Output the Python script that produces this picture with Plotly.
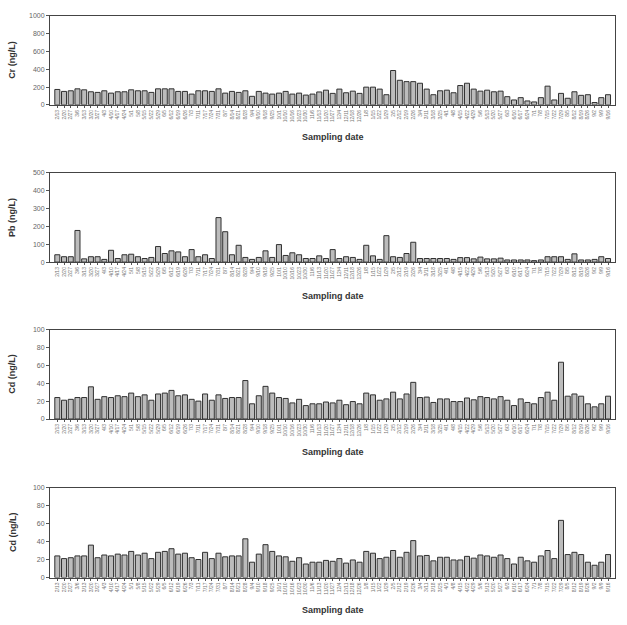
import plotly.graph_objects as go

dates = ["2/13","2/20","2/27","3/6","3/13","3/20","3/27","4/3","4/10","4/17","4/24",
         "5/1","5/8","5/15","5/22","5/29","6/5","6/12","6/19","6/26",
         "7/3","7/11","7/17","7/24","7/31","8/7","8/14","8/21","8/28",
         "9/4","9/10","9/18","9/25","10/1","10/10","10/16","10/23","10/30",
         "11/6","11/13","11/20","11/27","12/4","12/11","12/18","12/26",
         "1/8","1/15","1/22","1/29","2/5","2/12","2/19","2/26",
         "3/4","3/11","3/18","3/25","4/1","4/8","4/15","4/22","4/29",
         "5/6","5/13","5/20","5/27","6/3","6/10","6/17","6/24",
         "7/1","7/8","7/15","7/22","7/29","8/5","8/12","8/19","8/26",
         "9/2","9/9","9/16"]

cr = [173,151,158,180,169,147,140,158,132,147,147,169,158,158,140,180,180,180,151,151,
      121,158,158,151,180,132,151,140,158,96,151,132,121,132,151,121,132,110,121,145,
      165,129,177,136,154,129,199,199,177,114,386,276,261,261,243,177,114,158,165,136,
      217,243,177,154,165,147,154,92,55,81,44,33,81,210,55,129,74,147,107,114,
      26,81,114]

pb = [41,30,30,177,18,30,30,15,66,20,41,44,30,20,26,87,48,63,57,30,
      70,30,41,20,249,170,41,94,26,15,26,63,26,98,37,52,41,20,20,35,
      20,70,20,30,26,15,94,35,15,148,30,26,48,111,20,20,20,20,20,15,
      25,25,18,28,18,18,22,12,12,12,12,8,12,30,30,30,15,46,12,12,
      15,30,20]

cd = [24,21,22,24,24,36,22,25,24,26,25,29,25,27,21,28,29,32,26,27,
      22,20,28,21,27,23,24,24,43,17,26,36.5,29,24,23,18,22,15,17,17,
      19,18,21,16,19.5,17,29,27,21,22.5,30,22.5,28,41,24,24.5,18.5,22.5,22.5,19.5,
      19.5,23.5,21.5,25,24,22.5,25,21,15,22.5,18.5,17,24,30,21,63.5,25.5,28,25.5,17,
      13.6,17,25.5]

panels = [
    ("Cr (ng/L)", cr, [0, 1000], [0, 200, 400, 600, 800, 1000]),
    ("Pb (ng/L)", pb, [0, 500], [0, 100, 200, 300, 400, 500]),
    ("Cd (ng/L)", cd, [0, 100], [0, 20, 40, 60, 80, 100]),
    ("Cd (ng/L)", cd, [0, 100], [0, 20, 40, 60, 80, 100]),
]

W, H = 627, 625
# plot areas in pixels (top, bottom)
rows_px = [(12, 102), (170.7, 261), (329.3, 419.7), (489, 580)]
xtitle_px = [135, 295, 453, 612.5]
x0_px, x1_px = 50, 615

fig = go.Figure()
font_fam = "Liberation Sans, Arial, sans-serif"
annotations = []
layout = {}
for i, (ytitle, vals, yr, ytv) in enumerate(panels):
    n = "" if i == 0 else str(i + 1)
    fig.add_trace(go.Bar(
        x=dates, y=vals, xaxis="x" + n, yaxis="y" + n,
        marker=dict(color="#bcbcbc", line=dict(color="#303030", width=1)),
        showlegend=False, hoverinfo="x+y"))
    top, bot = rows_px[i]
    layout["xaxis" + n] = dict(
        domain=[x0_px / W, x1_px / W], anchor="y" + n,
        type="category", range=[-1.09, len(dates) - 1 + 1.04],
        tickmode="array", tickvals=dates, ticktext=dates,
        tickangle=-90, tickfont=dict(size=5, color="#777", family=font_fam),
        ticks="outside", ticklen=2, tickcolor="#555",
        showline=True, linecolor="#444", linewidth=1, mirror=True,
        showgrid=False, zeroline=False, fixedrange=True)
    layout["yaxis" + n] = dict(
        domain=[1 - bot / H, 1 - top / H], anchor="x" + n,
        range=yr, tickmode="array", tickvals=ytv,
        tickfont=dict(size=7, color="#666", family=font_fam),
        ticks="outside", ticklen=3, tickcolor="#555",
        showline=True, linecolor="#444", linewidth=1, mirror=True,
        showgrid=False, zeroline=False, fixedrange=True)
    annotations.append(dict(
        text="<b>Sampling date</b>", xref="paper", yref="paper",
        x=(x0_px + x1_px) / 2 / W, y=1 - xtitle_px[i] / H,
        showarrow=False, font=dict(size=9, color="#333", family=font_fam),
        xanchor="center", yanchor="middle"))
    annotations.append(dict(
        text="<b>" + ytitle + "</b>", xref="paper", yref="paper",
        x=12.5 / W, y=1 - (top + bot) / 2 / H, textangle=-90,
        showarrow=False, font=dict(size=9, color="#333", family=font_fam),
        xanchor="center", yanchor="middle"))

fig.update_layout(
    width=W, height=H, margin=dict(l=0, r=0, t=0, b=0),
    paper_bgcolor="white", plot_bgcolor="white",
    bargap=0.25, annotations=annotations, **layout)

fig.write_html("out.html")
